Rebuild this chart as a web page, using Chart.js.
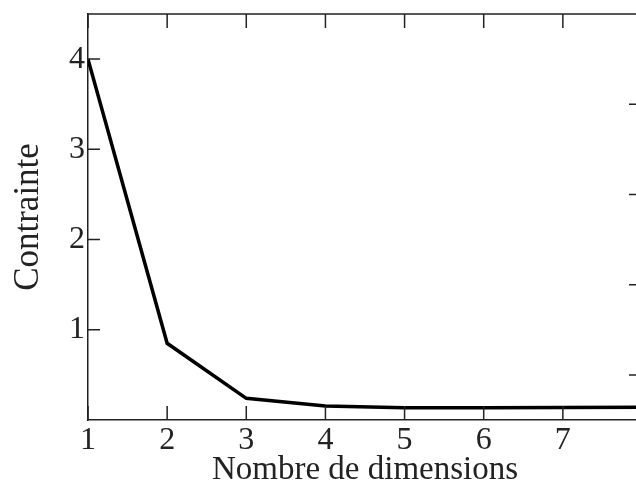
<!DOCTYPE html>
<html>
<head>
<meta charset="utf-8">
<script src="https://cdn.jsdelivr.net/npm/chart.js@4.4.0/dist/chart.umd.min.js"></script>
<style>
  html, body { margin: 0; padding: 0; background: #fff; overflow: hidden; }
  #wrap { width: 660px; height: 491px; }
</style>
</head>
<body>
<div id="wrap"><canvas id="stressChart" width="660" height="491"></canvas></div>
<script>
// data
const dimensions = [1, 2, 3, 4, 5, 6, 7, 8];
const stress = [4.0, 0.85, 0.24, 0.155, 0.135, 0.135, 0.138, 0.142];
const xTickValues = [1, 2, 3, 4, 5, 6, 7, 8];
const xTickLabels = ["1", "2", "3", "4", "5", "6", "7", ""];
const yTickValues = [1, 2, 3, 4];
const rightTickValues = [0.5, 1.5, 2.5, 3.5];

const ink = "#222";
const serif = "'Liberation Serif', 'DejaVu Serif', serif";

// inward ticks on all four sides + top frame line
const frameTicks = {
  id: "frameTicks",
  afterDraw(chart) {
    const { ctx, chartArea: a, scales: { x, y } } = chart;
    ctx.save();
    ctx.strokeStyle = ink;
    ctx.lineWidth = 1.5;
    ctx.beginPath();
    ctx.moveTo(a.left, a.top);
    ctx.lineTo(a.right, a.top);
    ctx.moveTo(a.right, a.top);
    ctx.lineTo(a.right, a.bottom);
    xTickValues.forEach(v => {
      const px = x.getPixelForValue(v);
      ctx.moveTo(px, a.bottom);
      ctx.lineTo(px, a.bottom - 14);
      ctx.moveTo(px, a.top);
      ctx.lineTo(px, a.top + 14);
    });
    yTickValues.forEach(v => {
      const py = y.getPixelForValue(v);
      ctx.moveTo(a.left, py);
      ctx.lineTo(a.left + 12, py);
    });
    rightTickValues.forEach(v => {
      const py = y.getPixelForValue(v);
      ctx.moveTo(a.right, py);
      ctx.lineTo(a.right - 13, py);
    });
    ctx.stroke();
    ctx.restore();
  }
};

new Chart(document.getElementById("stressChart"), {
  type: "line",
  data: {
    datasets: [{
      data: dimensions.map((d, i) => ({ x: d, y: stress[i] })),
      borderColor: "#000",
      borderWidth: 3.5,
      pointRadius: 0,
      tension: 0,
      fill: false
    }]
  },
  options: {
    responsive: false,
    animation: false,
    layout: { padding: { top: 14, right: 18, left: 0, bottom: 0 } },
    plugins: { legend: { display: false }, tooltip: { enabled: false } },
    scales: {
      x: {
        type: "linear",
        min: 1,
        max: 8,
        afterBuildTicks: s => { s.ticks = xTickValues.map(v => ({ value: v })); },
        afterFit: s => { s.height = 71; s.paddingLeft = 0; s.paddingRight = 0; },
        grid: { display: false, drawTicks: false },
        border: { display: true, color: ink, width: 1.5 },
        ticks: {
          color: ink,
          font: { family: serif, size: 32 },
          padding: 1,
          maxRotation: 0,
          autoSkip: false,
          callback: (v, i) => xTickLabels[i]
        },
        title: {
          display: true,
          text: "Nombre de dimensions",
          color: ink,
          font: { family: serif, size: 33 },
          padding: { top: 0, bottom: 1 }
        }
      },
      y: {
        min: 0,
        max: 4.5,
        afterBuildTicks: s => { s.ticks = yTickValues.map(v => ({ value: v })); },
        afterFit: s => { s.width = 88; s.paddingTop = 0; s.paddingBottom = 0; },
        grid: { display: false, drawTicks: false },
        border: { display: true, color: ink, width: 1.5 },
        ticks: {
          color: ink,
          font: { family: serif, size: 32 },
          padding: 3
        },
        title: {
          display: true,
          text: "Contrainte",
          color: ink,
          font: { family: serif, size: 35 },
          padding: { top: 8, bottom: 0 }
        }
      }
    }
  },
  plugins: [frameTicks]
});
</script>
</body>
</html>
